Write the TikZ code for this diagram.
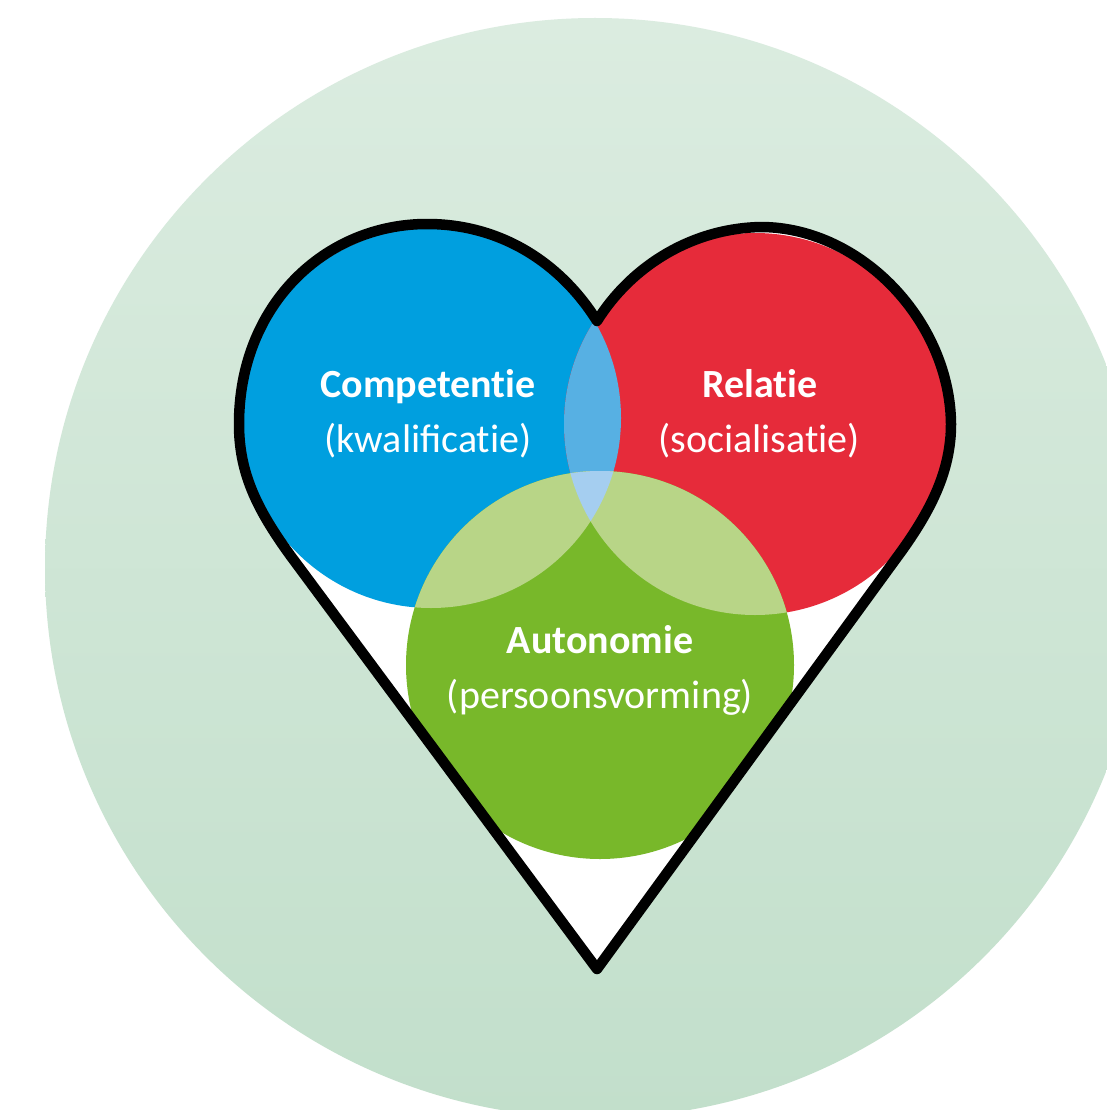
\documentclass[tikz,border=0pt]{standalone}
\usepackage{fontspec}
\setmainfont{Carlito}
\definecolor{bgtop}{RGB}{219,236,224}
\definecolor{bgbot}{RGB}{194,223,203}
\definecolor{cblue}{RGB}{0,159,223}
\definecolor{cred}{RGB}{230,43,58}
\definecolor{cgreen}{RGB}{120,184,42}
\definecolor{lensbr}{RGB}{87,176,227}
\definecolor{lensg}{RGB}{184,213,135}
\definecolor{lenstri}{RGB}{165,206,240}
\newcommand{\heartoutline}{(597,321) .. controls (560,262) and (500,224) .. (427,224)
  .. controls (325,224) and (239,305) .. (239,424)
  .. controls (239,472) and (256,508) .. (290,555)
  -- (597,969)
  -- (895,560)
  .. controls (930,513) and (951,472) .. (951,424)
  .. controls (950,322) and (862,228) .. (762,227)
  .. controls (690,228) and (630,268) .. (597,321) -- cycle}
\newcommand{\bluecirc}{(431,418) circle[radius=190]}
\newcommand{\redcirc}{(755,424) circle[radius=191]}
\newcommand{\greencirc}{(600,665) circle[radius=194]}
\newcommand{\ti}{t\kern0pt i}
\tikzset{
  headtxt/.style={text=white, font=\bfseries\fontsize{40}{48}\selectfont, anchor=base, inner sep=0pt},
  subtxt/.style={text=white, font=\fontsize{40}{48}\selectfont, anchor=base, inner sep=0pt},
}
\begin{document}
\begin{tikzpicture}[x=1pt,y=-1pt]
\useasboundingbox (0,0) rectangle (1107,1110);
\clip (0,0) rectangle (1107,1110);
\fill[white] (0,0) rectangle (1107,1110);
\shade[top color=bgtop, bottom color=bgbot] (595,568) circle[radius=550];
\begin{scope}
  \clip \heartoutline;
  \fill[white] \heartoutline;
  \fill[cblue] \bluecirc;
  \fill[cred] \redcirc;
  \begin{scope}\clip \bluecirc; \fill[lensbr] \redcirc; \end{scope}
  \fill[cgreen] \greencirc;
  \begin{scope}\clip \bluecirc; \fill[lensg] \greencirc; \end{scope}
  \begin{scope}\clip \redcirc; \fill[lensg] \greencirc; \end{scope}
  \begin{scope}\clip \bluecirc; \clip \redcirc; \fill[lenstri] \greencirc; \end{scope}
\end{scope}
\draw[line width=10.5pt, line join=round, line cap=round] \heartoutline;
\node[headtxt] (comp) at (428,397) {Competen\ti e};
\node[subtxt] (kwal) at (428,452) {(kwalifica\ti e)};
\node[headtxt] (rel) at (760,397) {Rela\ti e};
\node[subtxt] (soc) at (759,452) {(socialisa\ti e)};
\node[headtxt] (auto) at (600,653) {Autonomie};
\node[subtxt] (pers) at (600,708) {(persoonsvorming)};
\end{tikzpicture}
\end{document}
